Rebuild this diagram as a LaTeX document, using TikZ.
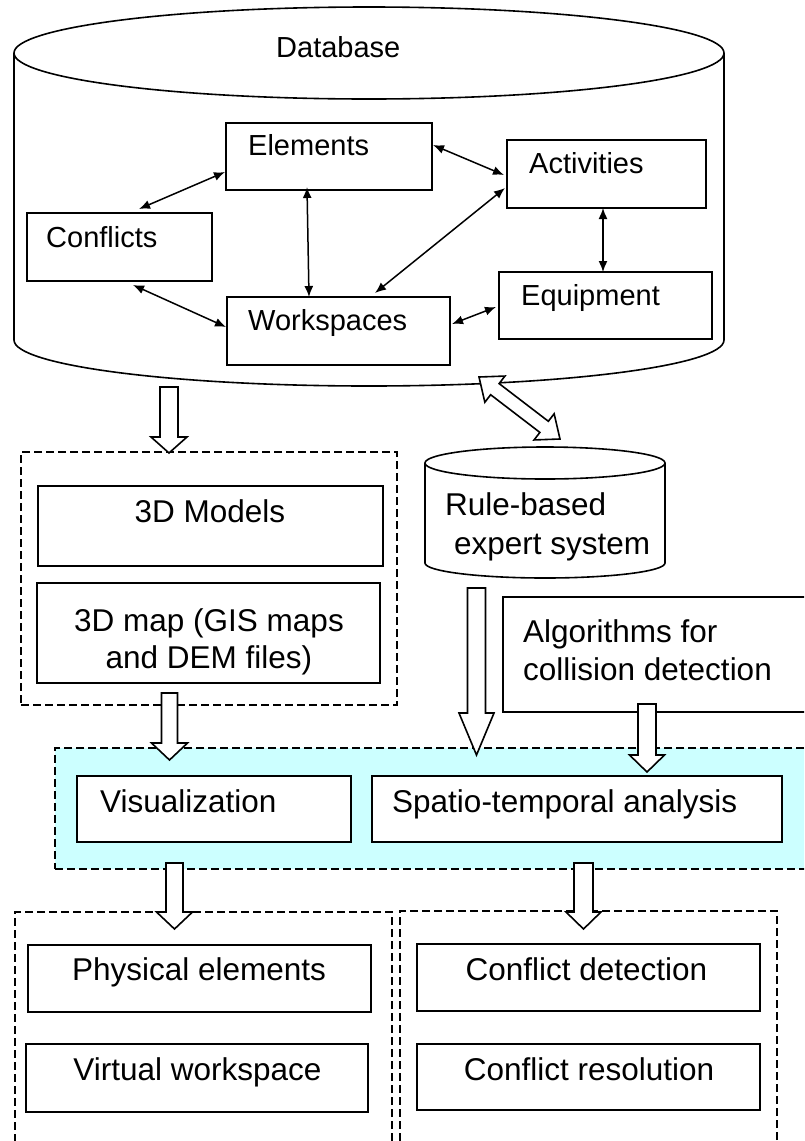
\documentclass[tikz,border=0pt]{standalone}
\usepackage{fontspec}
\setmainfont{Liberation Sans}
\usetikzlibrary{arrows.meta}
\newcommand\topfont{\fontsize{29}{33}\selectfont}
\newcommand\botfont{\fontsize{31.5}{37.5}\selectfont}
\newcommand\getvec[2]{%
  \pgfpointdiff{\pgfpointanchor{#1}{center}}{\pgfpointanchor{#2}{center}}%
  \pgfgetlastxy{\vx}{\vy}%
  \pgfmathsetmacro\vlen{veclen(\vx,\vy)}%
  \pgfmathsetmacro\vang{atan2(\vy,\vx)}%
}
% single block arrow: start, end, half shaft, half head, head length
\newcommand\sarrow[5]{%
  \getvec{#1}{#2}%
  \pgfmathsetmacro\vb{\vlen-#5}%
  \draw[blk, shift={(#1)}, rotate=\vang] (0pt,#3pt) -- (\vb pt,#3pt) -- (\vb pt,#4pt) -- (\vlen pt,0pt) -- (\vb pt,-#4pt) -- (\vb pt,-#3pt) -- (0pt,-#3pt) -- cycle;
}
% double block arrow
\newcommand\darrow[5]{%
  \getvec{#1}{#2}%
  \pgfmathsetmacro\vb{\vlen-#5}%
  \draw[blk, shift={(#1)}, rotate=\vang] (0pt,0pt) -- (#5pt,#4pt) -- (#5pt,#3pt) -- (\vb pt,#3pt) -- (\vb pt,#4pt) -- (\vlen pt,0pt) -- (\vb pt,-#4pt) -- (\vb pt,-#3pt) -- (#5pt,-#3pt) -- (#5pt,-#4pt) -- cycle;
}
\definecolor{lcyan}{HTML}{CCFFFF}
\begin{document}
\begin{tikzpicture}[x=1pt,y=-1pt,
  box/.style={draw, fill=white, line width=1.6pt, inner sep=0pt, outer sep=0pt, anchor=north west},
  grp/.style={draw, line width=1.4pt, dash pattern=on 8pt off 4pt, inner sep=0pt, outer sep=0pt, anchor=north west},
  cyl/.style={line width=1.6pt},
  lnk/.style={line width=1.5pt, {Latex[length=11pt,width=9pt]}-{Latex[length=11pt,width=9pt]}},
  blk/.style={draw, fill=white, line width=1.6pt, line join=miter},
  tt/.style={font=\topfont, inner sep=0pt, anchor=base west},
  bt/.style={font=\botfont, inner sep=0pt, anchor=base},
  btl/.style={font=\botfont, inner sep=0pt, anchor=base west},
]
\useasboundingbox (0,0) rectangle (804,1141);
\clip (0,0) rectangle (804,1141);
\fill[white] (0,0) rectangle (804,1141);

% ---------- Database cylinder ----------
\draw[cyl] (14,53) -- (14,340) arc[start angle=180,end angle=360,x radius=355pt,y radius=46pt] -- (724,53);
\draw[cyl] (369,53) ellipse [x radius=355pt, y radius=46pt];
\node[tt] (dbt) at (276,57) {Database};

\node[box, minimum width=206pt, minimum height=67pt] (elem) at (226,123) {};
\node[box, minimum width=199pt, minimum height=68pt] (act) at (507,140) {};
\node[box, minimum width=185pt, minimum height=68pt] (conf) at (27,213) {};
\node[box, minimum width=223pt, minimum height=68pt] (work) at (227,297) {};
\node[box, minimum width=213pt, minimum height=67pt] (equip) at (499,272) {};
\node[tt] (elemt) at (248,155) {Elements};
\node[tt] (actt) at (529,173) {Activities};
\node[tt] (conft) at (46,247) {Conflicts};
\node[tt] (workt) at (248,330) {Workspaces};
\node[tt] (equipt) at (521,305) {Equipment};

\coordinate (ea1) at (433,145); \coordinate (ea2) at (504,175);
\coordinate (ce1) at (139,209); \coordinate (ce2) at (225,172);
\coordinate (ew1) at (307,187); \coordinate (ew2) at (309,297);
\coordinate (wa1) at (375,293); \coordinate (wa2) at (505,188);
\coordinate (aq1) at (603,208); \coordinate (aq2) at (603,272);
\coordinate (cw1) at (133,285); \coordinate (cw2) at (226,327);
\coordinate (wq1) at (452,324); \coordinate (wq2) at (496,307);
\draw[lnk] (ea1) -- (ea2);
\draw[lnk] (ce1) -- (ce2);
\draw[lnk] (ew1) -- (ew2);
\draw[lnk] (wa1) -- (wa2);
\draw[lnk] (aq1) -- (aq2);
\draw[lnk] (cw1) -- (cw2);
\draw[lnk] (wq1) -- (wq2);

% ---------- Left group ----------
\node[grp, minimum width=376pt, minimum height=253pt] (g1) at (21,452) {};
\node[box, minimum width=345pt, minimum height=80pt] (m3d) at (38,486) {};
\node[bt] (m3dt) at (210,522) {3D Models};
\node[box, minimum width=343pt, minimum height=100pt] (map) at (37,583) {};
\node[bt] (mapt1) at (209,631) {3D map (GIS maps};
\node[bt] (mapt2) at (209,668) {and DEM files)};

% ---------- Rule-based cylinder ----------
\draw[cyl] (425,463) -- (425,563) arc[start angle=180,end angle=360,x radius=120pt,y radius=15pt] -- (665,463);
\draw[cyl] (545,463) ellipse [x radius=120pt, y radius=16pt];
\node[btl] (rbt1) at (445,515) {Rule-based};
\node[btl] (rbt2) at (454,554) {expert system};

% ---------- Algorithms ----------
\node[box, minimum width=320pt, minimum height=115pt] (algo) at (503,597) {};
\node[btl] (algt1) at (523,642) {Algorithms for};
\node[btl] (algt2) at (523,680) {collision detection};

% ---------- Cyan group ----------
\node[grp, fill=lcyan, minimum width=770pt, minimum height=121pt] (cy) at (55,748) {};
\node[box, minimum width=274pt, minimum height=66pt] (vis) at (77,776) {};
\node[box, minimum width=410pt, minimum height=66pt] (spa) at (372,776) {};
\node[btl] (vist) at (100,812) {Visualization};
\node[btl] (spat) at (392,812) {Spatio-temporal analysis};

% ---------- Bottom groups ----------
\node[grp, minimum width=377pt, minimum height=260pt] (gl) at (15,912) {};
\node[grp, minimum width=377pt, minimum height=260pt] (gr) at (400,911) {};
\node[box, minimum width=343pt, minimum height=67pt] (phys) at (28,945) {};
\node[box, minimum width=342pt, minimum height=68pt] (virt) at (26,1044) {};
\node[box, minimum width=343pt, minimum height=67pt] (cdet) at (417,944) {};
\node[box, minimum width=343pt, minimum height=66pt] (cres) at (417,1044) {};
\node[bt] (physt) at (199,980) {Physical elements};
\node[bt] (virtt) at (197.5,1080) {Virtual workspace};
\node[bt] (cdett) at (586.5,980) {Conflict detection};
\node[bt] (crest) at (589,1080) {Conflict resolution};

% ---------- Block arrows ----------
\coordinate (d1) at (169,387);   \coordinate (d2) at (169,453);
\coordinate (g1a) at (169.5,693); \coordinate (g1b) at (169.5,760);
\coordinate (r1) at (476.5,588); \coordinate (r2) at (476.5,755);
\coordinate (al1) at (647,704);  \coordinate (al2) at (647,772);
\coordinate (cl1) at (174.5,863); \coordinate (cl2) at (174.5,929);
\coordinate (cr1) at (583.5,863); \coordinate (cr2) at (583.5,929);
\coordinate (x1) at (479,377);   \coordinate (x2) at (560,439);
\sarrow{d1}{d2}{9}{18}{16}
\sarrow{g1a}{g1b}{8}{18}{17}
\sarrow{r1}{r2}{9}{17.5}{42}
\sarrow{al1}{al2}{9}{17.5}{17}
\sarrow{cl1}{cl2}{8.5}{18}{17}
\sarrow{cr1}{cr2}{9.5}{17.5}{17}
\darrow{x1}{x2}{7}{16.5}{20}
\end{tikzpicture}
\end{document}
